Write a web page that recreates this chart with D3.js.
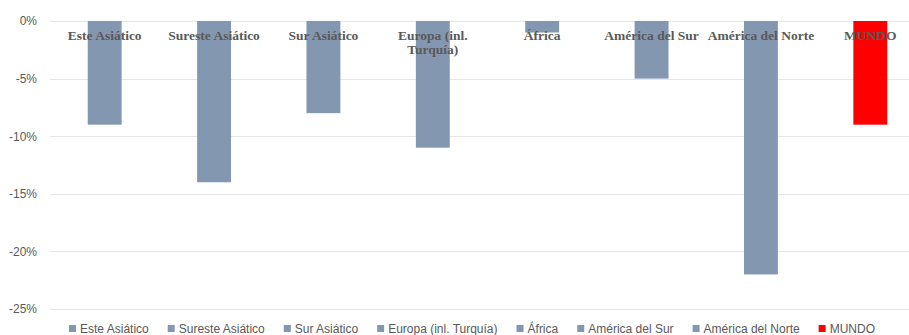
<!DOCTYPE html>
<html>
<head>
<meta charset="utf-8">
<script src="https://cdn.jsdelivr.net/npm/d3@7"></script>
<style>
  html, body { margin: 0; padding: 0; background: #ffffff; }
  svg { display: block; }
</style>
</head>
<body>
<div id="chart"></div>
<script>
// Variación por región (%)
const categories = ["Este Asiático", "Sureste Asiático", "Sur Asiático", "Europa (inl. Turquía)", "África", "América del Sur", "América del Norte", "MUNDO"];
const categoryLines = [["Este Asiático"], ["Sureste Asiático"], ["Sur Asiático"], ["Europa (inl.", "Turquía)"], ["África"], ["América del Sur"], ["América del Norte"], ["MUNDO"]];
const values = [-9, -14, -8, -11, -1, -5, -22, -9];
const colors = ["#8497b0", "#8497b0", "#8497b0", "#8497b0", "#8497b0", "#8497b0", "#8497b0", "#ff0000"];
const yTicks = [0, -5, -10, -15, -20, -25];

const W = 909, H = 335;
const svg = d3.select("#chart").append("svg").attr("width", W).attr("height", H);

const x = d3.scaleBand().domain(categories).range([50, 925]).paddingInner(0.69).paddingOuter(0.345);
const y = d3.scaleLinear().domain([-25, 0]).range([309, 21]);

// gridlines
svg.append("g").selectAll("line").data(yTicks).join("line")
  .attr("x1", 50).attr("x2", W)
  .attr("y1", d => Math.round(y(d)) + 0.5).attr("y2", d => Math.round(y(d)) + 0.5)
  .attr("stroke", "#e6e6e6").attr("stroke-width", 1);

// y axis
const yAxis = d3.axisLeft(y).tickValues(yTicks).tickSize(0).tickPadding(13)
  .tickFormat(d => d + "%");
const gy = svg.append("g").attr("transform", "translate(50,0)").call(yAxis);
gy.select(".domain").remove();
gy.selectAll("text").attr("fill", "#595959")
  .style("font-family", "'Liberation Sans', Arial, sans-serif").style("font-size", "12px");

// bars
svg.append("g").selectAll("rect").data(values).join("rect")
  .attr("x", (d, i) => x(categories[i]))
  .attr("width", x.bandwidth())
  .attr("y", d => y(Math.max(0, d)))
  .attr("height", d => Math.abs(y(d) - y(0)))
  .attr("fill", (d, i) => colors[i]);

// category labels, drawn over the bars
const lbl = svg.append("g").selectAll("text").data(categories).join("text")
  .attr("x", d => x(d) + x.bandwidth() / 2)
  .attr("y", 40)
  .attr("text-anchor", "middle")
  .attr("fill", "#595959")
  .style("font-family", "'Liberation Serif', 'Times New Roman', serif")
  .style("font-weight", "bold")
  .style("font-size", "13.5px");
lbl.each(function(d, i) {
  const t = d3.select(this);
  categoryLines[i].forEach((line, j) => {
    t.append("tspan").attr("x", x(d) + x.bandwidth() / 2).attr("dy", j === 0 ? 0 : 14).text(line);
  });
});

// legend
const legend = svg.append("g");
const items = legend.selectAll("g").data(categories).join("g");
items.append("rect").attr("width", 7).attr("height", 7).attr("y", -8)
  .attr("fill", (d, i) => colors[i]);
items.append("text").attr("x", 11).attr("y", 0)
  .attr("fill", "#595959")
  .style("font-family", "'Liberation Sans', Arial, sans-serif").style("font-size", "12px")
  .text(d => d);
let cx = 0;
const offs = [];
items.each(function() {
  offs.push(cx);
  cx += 11 + this.querySelector("text").getComputedTextLength() + 19;
});
const total = cx - 19;
const startX = 472 - total / 2;
items.attr("transform", (d, i) => `translate(${startX + offs[i]},333)`);
</script>
</body>
</html>
